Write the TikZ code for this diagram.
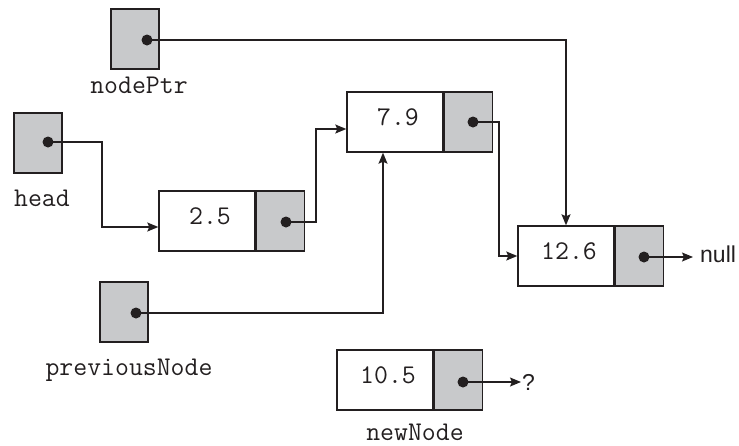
\documentclass[tikz,border=0pt]{standalone}
\usepackage{fontspec}
\setmainfont{Liberation Sans}
\usetikzlibrary{arrows.meta,positioning,calc}
\definecolor{cellgray}{RGB}{200,201,203}
\definecolor{ink}{RGB}{35,31,32}

\tikzset{
  datacell/.style={draw=ink, line width=1.4pt, fill=white, minimum width=96pt, minimum height=60pt,
                   inner sep=0pt, text depth=9pt, execute at begin node=\hspace*{6pt},
                   font=\fontsize{27}{29}\selectfont\ttfamily, text=ink},
  ptrcell/.style={draw=ink, line width=1.4pt, fill=cellgray, minimum width=48pt, minimum height=60pt, inner sep=0pt},
  dot/.style={circle, fill=ink, inner sep=0pt, minimum size=11pt},
  varname/.style={anchor=base, inner sep=0pt, font=\fontsize{27}{29}\selectfont\ttfamily, text=ink},
  endtext/.style={anchor=base west, inner sep=0pt, font=\fontsize{23}{25}\selectfont, text=ink},
  ptr/.style={draw=ink, line width=1.2pt, -{Stealth[length=11pt,width=9pt,inset=2pt]}}
}

\begin{document}
\begin{tikzpicture}[x=1pt, y=-1pt]
  \useasboundingbox (0,0) rectangle (739,445);

  % pointer variables
  \node[ptrcell] (nodePtr) at (135,39) {};
  \node[ptrcell] (head) at (38,143) {};
  \node[ptrcell] (previousNode) at (124,312) {};
  \node[varname] (nodePtrName) at (139,93) {nodePtr};
  \node[varname] (headName) at (42,206) {head};
  \node[varname] (previousNodeName) at (129,375) {previousNode};

  % list nodes
  \node[datacell] (n25) at (207,221) {2.5};
  \node[ptrcell, right=0pt of n25] (n25p) {};
  \node[datacell] (n79) at (395,122) {7.9};
  \node[ptrcell, right=0pt of n79] (n79p) {};
  \node[datacell] (n126) at (566,256) {12.6};
  \node[ptrcell, right=0pt of n126] (n126p) {};
  \node[datacell] (n105) at (385,380) {10.5};
  \node[ptrcell, right=0pt of n105] (n105p) {};
  \node[varname] (newNodeName) at (415,440) {newNode};

  % dots
  \node[dot] (nodePtrDot) at (147,40) {};
  \node[dot] (headDot) at (48,142) {};
  \node[dot] (previousNodeDot) at (136,313) {};
  \node[dot] (n25Dot) at (286,222) {};
  \node[dot] (n79Dot) at (473,122) {};
  \node[dot] (n126Dot) at (644,257) {};
  \node[dot] (n105Dot) at (463,382) {};

  \node[endtext] (null) at (700,262) {null};
  \node[endtext] (unknown) at (522,390) {?};

  % connectors
  \draw[ptr] (nodePtrDot.center) -| (n126.north);
  \draw[ptr] (headDot.center) -- ++(54,0) |- ([yshift=-6pt]n25.west);
  \draw[ptr] (n25Dot.center) -- ++(30,0) |- ([yshift=-7pt]n79.west);
  \draw[ptr] (n79Dot.center) -- ++(26,0) |- (n126.west);
  \draw[ptr] (previousNodeDot.center) -| ([xshift=-12pt]n79.south);
  \draw[ptr] (n126Dot.center) -- ([xshift=-7pt]n126Dot -| null.west);
  \draw[ptr] (n105Dot.center) -- ([xshift=-1pt]n105Dot -| unknown.west);
\end{tikzpicture}
\end{document}
